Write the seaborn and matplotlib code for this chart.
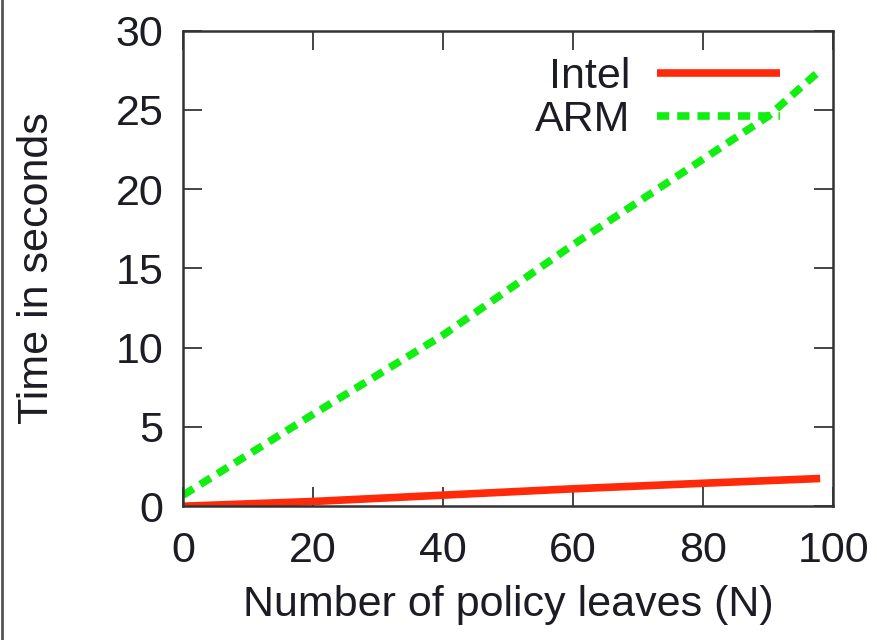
import matplotlib
matplotlib.use("Agg")
import matplotlib.pyplot as plt
from matplotlib.lines import Line2D
import pandas as pd
import seaborn as sns

# Run time versus number of policy leaves
intel_n = [0, 20, 40, 60, 80, 98]
intel_time = [0.0, 0.3, 0.7, 1.1, 1.45, 1.75]

arm_n = [0, 20, 40, 60, 80, 90, 98]
arm_time = [0.7, 5.8, 10.8, 16.5, 21.9, 24.6, 27.5]

x_ticks = [0, 20, 40, 60, 80, 100]
y_ticks = [0, 5, 10, 15, 20, 25, 30]

df = pd.concat([
    pd.DataFrame({"N": intel_n, "Time": intel_time, "Platform": "Intel"}),
    pd.DataFrame({"N": arm_n, "Time": arm_time, "Platform": "ARM"}),
], ignore_index=True)

sns.set_theme(style="ticks")
plt.rcParams["font.family"] = ["Liberation Sans", "DejaVu Sans"]

text_color = "#1c1c24"
font_size = 31

fig = plt.figure(figsize=(8.77, 6.4), dpi=100)
ax = fig.add_axes([0.2087, 0.209, 0.7413, 0.743])

palette = {"Intel": "#ff2a0a", "ARM": "#11ee11"}
sns.lineplot(data=df, x="N", y="Time", hue="Platform", style="Platform",
             palette=palette, dashes={"Intel": "", "ARM": (1.6, 1.05)},
             linewidth=5.5, ax=ax, legend=False, sort=True)
for line in ax.get_lines():
    line.set_dash_capstyle("butt")
    line.set_solid_capstyle("butt")

ax.set_xlim(0, 100)
ax.set_ylim(0, 30)
ax.set_xticks(x_ticks)
ax.set_yticks(y_ticks)

for side in ["left", "right", "top", "bottom"]:
    ax.spines[side].set_visible(True)
    ax.spines[side].set_linewidth(1.8)
    ax.spines[side].set_color("#333333")

ax.tick_params(direction="in", length=14, width=1.4, color="#444444",
               top=True, right=True, labelsize=font_size, labelcolor=text_color)
ax.tick_params(axis="y", pad=14)
ax.tick_params(axis="x", pad=18)

ax.set_xlabel("Number of policy leaves (N)", fontsize=font_size, color=text_color, labelpad=10)
ax.set_ylabel("Time in seconds", fontsize=font_size, color=text_color, labelpad=42)

handles = [
    Line2D([], [], color=palette["Intel"], lw=5.5, solid_capstyle="butt"),
    Line2D([], [], color=palette["ARM"], lw=5.5, linestyle=(0, (1.6, 1.05)),
           dash_capstyle="butt"),
]
leg = ax.legend(handles, ["Intel", "ARM"], loc="upper right",
                bbox_to_anchor=(0.918, 0.945), frameon=False, markerfirst=False,
                fontsize=font_size, handlelength=2.85, handletextpad=0.62,
                labelspacing=0.08, borderpad=0, borderaxespad=0)
for t in leg.get_texts():
    t.set_color(text_color)

# thin border on the left edge of the canvas
fig.add_artist(Line2D([0.002, 0.002], [0, 1], transform=fig.transFigure,
                      color="#555555", lw=2))

fig.savefig("out.png", dpi=100, facecolor="white")
